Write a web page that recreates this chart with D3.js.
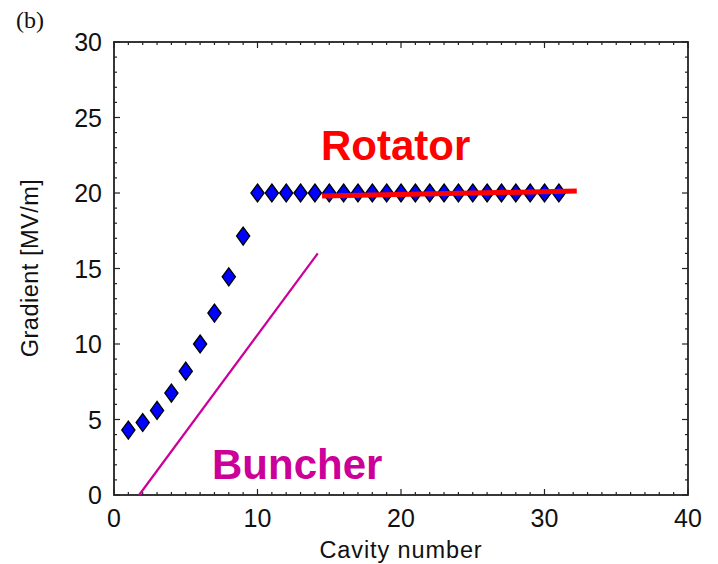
<!DOCTYPE html>
<html>
<head>
<meta charset="utf-8">
<script src="https://cdn.jsdelivr.net/npm/d3@7"></script>
<style>
  body { margin: 0; background: #fff; }
  svg { display: block; font-family: "Liberation Sans", Arial, sans-serif; }
</style>
</head>
<body>
<svg id="chart" width="718" height="564"></svg>
<script>
'use strict';

// cavity gradients (blue diamonds)
var cavities = d3.range(1, 32)
var gradients = [4.3, 4.8, 5.6, 6.75, 8.2, 10.0, 12.05, 14.45, 17.15,
    20, 20, 20, 20, 20, 20, 20, 20, 20, 20, 20, 20, 20, 20, 20, 20, 20, 20, 20, 20, 20, 20]

// guide lines
var buncherLine = [[1.75, 0], [14.2, 16]]
var rotatorLine = [[14.5, 19.8], [32.25, 20.13]]

var xTicks = [0, 10, 20, 30, 40]
var yTicks = [0, 5, 10, 15, 20, 25, 30]

var svg = d3.select('#chart')
var margin = {left: 114, right: 688, top: 42, bottom: 495}

var x = d3.scaleLinear().domain([0, 40]).range([margin.left, margin.right])
var y = d3.scaleLinear().domain([0, 30]).range([margin.bottom, margin.top])

var axisColor = '#222'

// frame
svg.append('rect')
    .attr('x', margin.left).attr('y', margin.top)
    .attr('width', margin.right - margin.left)
    .attr('height', margin.bottom - margin.top)
    .attr('fill', 'none')
    .attr('stroke', axisColor)
    .attr('stroke-width', 1.8)

// ticks, inward on all four sides
function drawTicks() {
    var g = svg.append('g').attr('stroke', axisColor).attr('stroke-width', 1.2)
    d3.range(0, 41).forEach(function(v) {
        var len = v % 10 === 0 ? 6 : 3
        g.append('line').attr('x1', x(v)).attr('x2', x(v))
            .attr('y1', margin.bottom).attr('y2', margin.bottom - len)
        g.append('line').attr('x1', x(v)).attr('x2', x(v))
            .attr('y1', margin.top).attr('y2', margin.top + len)
    })
    d3.range(0, 31).forEach(function(v) {
        var len = v % 5 === 0 ? 6 : 3
        g.append('line').attr('y1', y(v)).attr('y2', y(v))
            .attr('x1', margin.left).attr('x2', margin.left + len)
        g.append('line').attr('y1', y(v)).attr('y2', y(v))
            .attr('x1', margin.right).attr('x2', margin.right - len)
    })
}
drawTicks()

// tick labels
svg.append('g').selectAll('text').data(xTicks).enter().append('text')
    .attr('x', function(d) { return x(d) })
    .attr('y', 527)
    .attr('text-anchor', 'middle')
    .attr('font-size', 25)
    .attr('fill', '#111')
    .text(function(d) { return d })

svg.append('g').selectAll('text').data(yTicks).enter().append('text')
    .attr('x', 102)
    .attr('y', function(d) { return y(d) })
    .attr('dy', '0.36em')
    .attr('text-anchor', 'end')
    .attr('font-size', 25)
    .attr('fill', '#111')
    .text(function(d) { return d })

// axis titles
svg.append('text')
    .attr('x', 401).attr('y', 558)
    .attr('text-anchor', 'middle')
    .attr('font-size', 23.5)
    .attr('letter-spacing', 0.9)
    .attr('fill', '#111')
    .text('Cavity number')

svg.append('text')
    .attr('transform', 'translate(38,268) rotate(-90)')
    .attr('text-anchor', 'middle')
    .attr('font-size', 23.5)
    .attr('letter-spacing', 0.5)
    .attr('fill', '#111')
    .text('Gradient [MV/m]')

svg.append('text')
    .attr('x', 16).attr('y', 28)
    .attr('font-family', '"Liberation Serif", "Times New Roman", serif')
    .attr('font-size', 24)
    .attr('fill', '#111')
    .text('(b)')

// guide lines
var line = d3.line()
    .x(function(d) { return x(d[0]) })
    .y(function(d) { return y(d[1]) })

svg.append('path')
    .attr('d', line(buncherLine))
    .attr('fill', 'none')
    .attr('stroke', '#cc0099')
    .attr('stroke-width', 2.2)

// diamonds
var diamond = 'M0,-9L6.6,0L0,9L-6.6,0Z'
svg.append('g').selectAll('path')
    .data(cavities)
    .enter().append('path')
    .attr('d', diamond)
    .attr('transform', function(d, i) { return 'translate(' + x(d) + ',' + y(gradients[i]) + ')' })
    .attr('fill', '#0000ff')
    .attr('stroke', '#000')
    .attr('stroke-width', 1.3)

svg.append('path')
    .attr('d', line(rotatorLine))
    .attr('fill', 'none')
    .attr('stroke', '#ff0000')
    .attr('stroke-width', 5)

// annotations
svg.append('text')
    .attr('x', 321).attr('y', 160)
    .attr('font-size', 42)
    .attr('font-weight', 'bold')
    .attr('fill', '#ff0000')
    .text('Rotator')

svg.append('text')
    .attr('x', 212).attr('y', 479)
    .attr('font-size', 42)
    .attr('font-weight', 'bold')
    .attr('fill', '#cc0099')
    .text('Buncher')
</script>
</body>
</html>
